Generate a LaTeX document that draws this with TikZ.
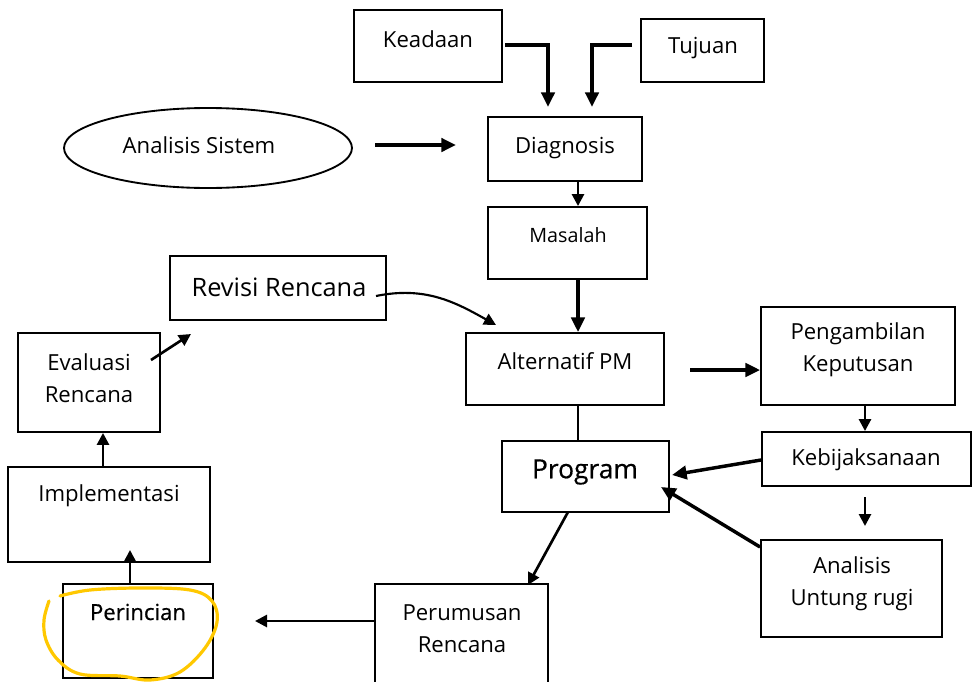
\documentclass[tikz,border=0pt]{standalone}
\usepackage{fontspec}
\setmainfont{Open Sans}
\usetikzlibrary{arrows.meta,fit,shapes.geometric}
\begin{document}
\begin{tikzpicture}[x=0.75pt,y=-0.75pt,
  box/.style={draw,line width=1.4pt,inner sep=0pt},
  txt/.style={inner sep=0pt,align=center,font=\fontsize{16.6}{24}\selectfont},
  arr/.style={line width=2pt,-{Triangle[length=9pt,width=9pt]}},
  thickarr/.style={line width=2.6pt,-{Triangle[length=11pt,width=10pt]}},
  conn/.style={line width=1.2pt}]
\useasboundingbox (0,0) rectangle (972,682);
% boxes
\node[box,fit={(354,10) (502,82)}] (keadaan) {};
\node[txt] (keadaanT) at (428,39) {Keadaan};
\node[box,fit={(641,19) (764,82)}] (tujuan) {};
\node[txt] (tujuanT) at (703,48) {Tujuan};
\node[draw,line width=1.4pt,ellipse,minimum width=216pt,minimum height=60pt,inner sep=0pt] (anasis) at (208,148) {};
\node[txt] (anasisT) at (199,145) {Analisis Sistem};
\node[box,fit={(488,117) (642,181)}] (diag) {};
\node[txt] (diagT) at (565,148) {Diagnosis};
\node[box,fit={(488,207) (647,279)}] (masalah) {};
\node[txt,font=\fontsize{14.8}{18}\selectfont] (masalahT) at (568,235) {Masalah};
\node[box,fit={(170,256) (386,320)}] (revisi) {};
\node[txt,font=\fontsize{19}{23}\selectfont] (revisiT) at (279,287) {Revisi Rencana};
\node[box,fit={(18,333) (160,432)}] (eval) {};
\node[txt] (evalT) at (89,378) {Evaluasi\\Rencana};
\node[box,fit={(8,467) (210,562)}] (impl) {};
\node[txt] (implT) at (109,496) {Implementasi};
\node[box,fit={(63,584) (213,678)}] (perinc) {};
\node[txt,font=\fontsize{16.6}{20}\selectfont\addfontfeature{FakeBold=0.6}] (perincT) at (138,612) {Perincian};
\node[box,fit={(466,333) (664,405)}] (alt) {};
\node[txt] (altT) at (565,361) {Alternatif PM};
\node[box,fit={(502,441) (669,512)}] (prog) {};
\node[txt,font=\fontsize{19.8}{23}\selectfont\addfontfeature{FakeBold=0.5}] (progT) at (585,472) {Program};
\node[box,fit={(761,307) (955,405)}] (ambil) {};
\node[txt] (ambilT) at (858,350) {Pengambilan\\Keputusan};
\node[box,fit={(762,432) (971,486)}] (kebij) {};
\node[txt] (kebijT) at (866,460) {Kebijaksanaan};
\node[box,fit={(761,540) (942,637)}] (untung) {};
\node[txt] (untungT) at (852,584) {Analisis\\Untung rugi};
\draw[box] (375,690) |- (548,584) -- (548,690);
\coordinate (perumTL) at (375,584);
\node[txt] (perumT) at (462,629) {Perumusan\\Rencana};
% coordinates for connectors
\coordinate (xm) at (578,0);
\coordinate (xk) at (865,0);
\coordinate (xi) at (103,0);
\coordinate (k1) at (505,45); \coordinate (k2) at (548,107);
\coordinate (t1) at (632,45); \coordinate (t2) at (592,107);
\coordinate (a1) at (375,145); \coordinate (a2) at (456,145);
\coordinate (r1) at (376,296); \coordinate (r2) at (496,325);
\coordinate (e1) at (151,360); \coordinate (e2) at (191,334);
\coordinate (p1) at (130,584); \coordinate (p2) at (130,550);
\coordinate (al1) at (690,370);
\coordinate (kb1) at (865,497); \coordinate (kb2) at (865,526);
\coordinate (pr1) at (375,621); \coordinate (pr2) at (255,621);
\coordinate (pg1) at (568,512); \coordinate (pg2) at (528,585);
\coordinate (kbs) at (0,460); \coordinate (kbe) at (672,475);
\coordinate (uts) at (0,547); \coordinate (ute) at (661,487);
% connectors
\draw[thickarr] (k1) -| (k2);
\draw[thickarr] (t1) -| (t2);
\draw[thickarr] (a1) -- (a2);
\draw[arr] (diag.south -| xm) -- (masalah.north -| xm);
\draw[thickarr] (masalah.south -| xm) -- (alt.north -| xm);
\draw[arr,line width=1.6pt] (r1) .. controls (425,286) and (455,302) .. (r2);
\draw[arr] (e1) -- (e2);
\draw[arr] (impl.north -| xi) -- (eval.south -| xi);
\draw[arr] (p1) -- (p2);
\draw[thickarr] (al1) -- (ambil.west |- al1);
\draw[conn] (alt.south -| xm) -- (prog.north -| xm);
\draw[arr] (ambil.south -| xk) -- (kebij.north -| xk);
\draw[arr] (kb1) -- (kb2);
\draw[thickarr] (kebij.west |- kbs) -- (kbe);
\draw[thickarr] (untung.west |- uts) -- (ute);
\draw[arr] (pg1) -- (pg2);
\draw[arr] (perumTL |- pr1) -- (pr2);
% yellow highlight
\draw[line width=2.4pt,color={rgb,255:red,255;green,200;blue,0},line cap=round,line join=round]
  plot[smooth,tension=0.6] coordinates {(49,601) (44,620) (46,640) (58,660) (80,674) (120,676) (150,680) (180,672) (205,648) (217,622) (212,601) (190,590) (140,588) (90,590) (60,596)};
\end{tikzpicture}
\end{document}
